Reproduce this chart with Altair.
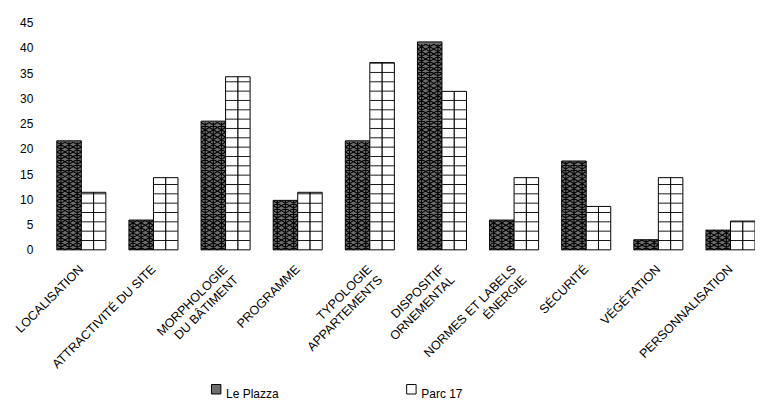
import altair as alt
import pandas as pd

NB = "\u00a0"
# Display labels (lines separated by "|", NBSP padding centres the lines of a label)
categories = [
    "LOCALISATION",
    "ATTRACTIVITÉ DU SITE",
    "MORPHOLOGIE|DU BÂTIMENT" + NB,
    "PROGRAMME",
    "TYPOLOGIE" + NB * 4 + "|APPARTEMENTS",
    "DISPOSITIF" + NB * 2 + "|ORNEMENTAL",
    "NORMES ET LABELS|ÉNERGIE" + NB * 10,
    "SÉCURITÉ",
    "VÉGÉTATION",
    "PERSONNALISATION",
]
series_names = ["Le Plazza", "Parc 17"]
plazza = [21.6, 5.9, 25.5, 9.8, 21.6, 41.2, 5.9, 17.6, 2.0, 3.9]
parc17 = [11.4, 14.3, 34.3, 11.4, 37.1, 31.4, 14.3, 8.6, 14.3, 5.7]
y_ticks = [0, 5, 10, 15, 20, 25, 30, 35, 40, 45]

rows = []
for c, a, b in zip(categories, plazza, parc17):
    rows.append({"cat": c, "series": series_names[0], "value": a})
    rows.append({"cat": c, "series": series_names[1], "value": b})
df = pd.DataFrame(rows)

FONT = "Liberation Sans"

x_enc = alt.X(
    "cat:N",
    sort=categories,
    scale=alt.Scale(paddingInner=0.32, paddingOuter=0),
    axis=alt.Axis(
        title=None,
        labelAngle=-45,
        labelAlign="right",
        labelBaseline="middle",
        labelExpr="split(datum.label, '|')",
        labelLineHeight=15,
        labelFont=FONT,
        labelFontSize=12.5,
        labelColor="#000",
        labelPadding=17,
        labelLimit=0,
        labelOverlap=False,
        domain=False,
        ticks=False,
        grid=False,
    ),
)
xo_enc = alt.XOffset(
    "series:N", sort=series_names, scale=alt.Scale(paddingInner=0, paddingOuter=0)
)
y_scale = alt.Scale(domain=[0, 45], nice=False)
y_axis = alt.Axis(
    title=None,
    values=y_ticks,
    labelFont=FONT,
    labelFontSize=12,
    labelColor="#000",
    labelPadding=24,
    domain=False,
    ticks=False,
    grid=False,
)


def y_of(field):
    return alt.Y(field, scale=y_scale, axis=y_axis, title=None)


base = alt.Chart(df)

bars = base.mark_bar(stroke="#000", strokeWidth=1).encode(
    x=x_enc,
    xOffset=xo_enc,
    y=y_of("value:Q"),
    fill=alt.Fill(
        "series:N",
        sort=series_names,
        scale=alt.Scale(domain=series_names, range=["#6e6e6e", "#ffffff"]),
        legend=alt.Legend(
            title=None,
            orient="none",
            legendX=154,
            legendY=362,
            direction="horizontal",
            columnPadding=126,
            padding=0,
            symbolType="square",
            symbolSize=90,
            symbolFillColor="#555",
            symbolStrokeColor="#000",
            symbolStrokeWidth=1,
            labelFont=FONT,
            labelFontSize=12,
            labelBaseline="top",
            labelColor="#000",
        ),
    ),
)

# ornamental lattice texture of the Le Plazza bars (one row of motifs per symbol)
MOTIF = (
    "M-1,-0.2L-0.333,0.2M-1,0.2L-0.333,-0.2M-0.667,-0.2L-0.667,0.2"
    "M-0.333,-0.2L0.333,0.2M-0.333,0.2L0.333,-0.2M0,-0.2L0,0.2"
    "M0.333,-0.2L1,0.2M0.333,0.2L1,-0.2M0.667,-0.2L0.667,0.2"
)
motif = (
    base.transform_filter(alt.datum.series == "Le Plazza")
    .transform_calculate(row="sequence(0.49, datum.value - 0.3, 0.97)")
    .transform_flatten(["row"])
    .mark_point(shape=MOTIF, size=600, filled=False, stroke="#000",
                strokeWidth=1.1, opacity=1)
    .encode(x=x_enc, xOffset=xo_enc, y=y_of("row:Q"))
)

# grid pattern of the Parc 17 bars: horizontal lines
grid_h = (
    base.transform_filter(alt.datum.series == "Parc 17")
    .transform_calculate(row="sequence(1.85, datum.value, 1.85)")
    .transform_flatten(["row"])
    .mark_tick(color="#000", thickness=1, size=24, opacity=0.9)
    .encode(x=x_enc, xOffset=xo_enc, y=y_of("row:Q"))
)


def vline(off):
    return (
        base.transform_filter(alt.datum.series == "Parc 17")
        .transform_calculate(zero="0")
        .mark_rule(color="#000", strokeWidth=1, xOffset=off, opacity=0.8)
        .encode(x=x_enc, xOffset=xo_enc, y=y_of("zero:Q"), y2="value:Q")
    )


chart = (
    alt.layer(bars, motif, grid_h, vline(-4), vline(4))
    .properties(
        width=701,
        height=228,
        autosize=alt.AutoSizeParams(type="none"),
        padding={"left": 49, "top": 14, "right": 0, "bottom": 156},
    )
    .configure_view(stroke=None)
)

chart.save("out.html", embed_options={"renderer": "svg", "actions": False})
